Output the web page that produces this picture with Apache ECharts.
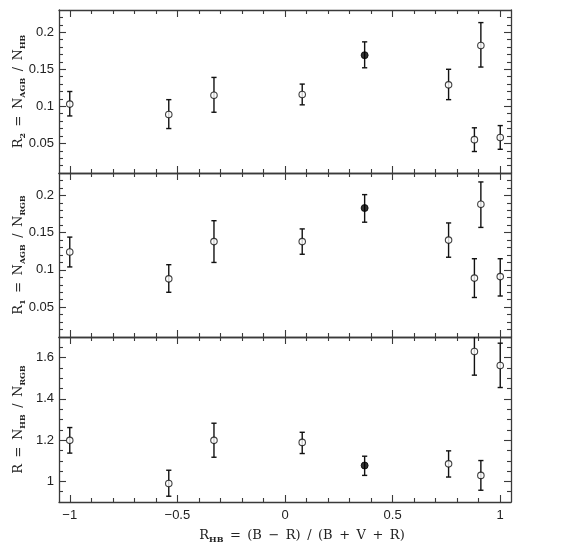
<!DOCTYPE html>
<html>
<head>
<meta charset="utf-8">
<script src="https://cdn.jsdelivr.net/npm/echarts@6/dist/echarts.min.js"></script>
<style>
html,body{margin:0;padding:0;background:#fff;}
#chart{width:570px;height:546px;}
</style>
</head>
<body>
<div id="chart"></div>
<script>
// ---- data ----
const xVals = [-1.0, -0.54, -0.33, 0.08, 0.37, 0.76, 0.88, 0.91, 1.0];
const filledIndex = 4; // the single filled point

const r2Vals = [0.103, 0.089, 0.115, 0.116, 0.169, 0.129, 0.055, 0.182, 0.058];
const r2Low  = [0.087, 0.070, 0.092, 0.102, 0.152, 0.109, 0.039, 0.153, 0.042];
const r2High = [0.120, 0.109, 0.139, 0.130, 0.187, 0.150, 0.071, 0.213, 0.074];

const r1Vals = [0.124, 0.088, 0.138, 0.138, 0.183, 0.140, 0.089, 0.188, 0.091];
const r1Low  = [0.104, 0.070, 0.110, 0.121, 0.164, 0.117, 0.063, 0.157, 0.065];
const r1High = [0.144, 0.107, 0.166, 0.155, 0.201, 0.163, 0.115, 0.218, 0.115];

const rVals  = [1.199, 0.990, 1.199, 1.189, 1.077, 1.085, 1.630, 1.029, 1.562];
const rLow   = [1.137, 0.928, 1.117, 1.135, 1.029, 1.021, 1.515, 0.957, 1.455];
const rHigh  = [1.261, 1.054, 1.282, 1.238, 1.122, 1.148, 1.745, 1.101, 1.670];

// ---- ticks ----
const xMajor = [-1, -0.5, 0, 0.5, 1];
const xMinor = [-0.9,-0.8,-0.7,-0.6,-0.4,-0.3,-0.2,-0.1,0.1,0.2,0.3,0.4,0.6,0.7,0.8,0.9];
const rRatioMajor = [0.05, 0.1, 0.15, 0.2];
const rRatioMinor = [0.02,0.03,0.04,0.06,0.07,0.08,0.09,0.11,0.12,0.13,0.14,0.16,0.17,0.18,0.19,0.21,0.22];
const rMajor = [1, 1.2, 1.4, 1.6];
const rMinor = [0.95,1.05,1.1,1.15,1.25,1.3,1.35,1.45,1.5,1.55,1.65];

const xRange = [-1.05, 1.05];
const rRatioRange = [0.01, 0.23];
const rRange = [0.9, 1.7];

// ---- styling ----
const frameColor = '#3a3a3a';
const textColor = '#222';
const tickFont = 'Liberation Sans';
const titleFont = 'DejaVu Serif';
const SP = '\u2002';

const panels = [
  {top: 10, height: 163, vals: r2Vals, low: r2Low, high: r2High, range: rRatioRange, major: rRatioMajor, minor: rRatioMinor,
   name: 'R{sub|2}' + SP + '=' + SP + 'N{sub|AGB}' + SP + '/' + SP + 'N{sub|HB}'},
  {top: 173, height: 164, vals: r1Vals, low: r1Low, high: r1High, range: rRatioRange, major: rRatioMajor, minor: rRatioMinor,
   name: 'R{sub|1}' + SP + '=' + SP + 'N{sub|AGB}' + SP + '/' + SP + 'N{sub|RGB}'},
  {top: 337, height: 165, vals: rVals, low: rLow, high: rHigh, range: rRange, major: rMajor, minor: rMinor,
   name: 'R' + SP + '=' + SP + 'N{sub|HB}' + SP + '/' + SP + 'N{sub|RGB}'}
];
const xTitle = 'R{sub|HB}' + SP + '=' + SP + '(B' + SP + '\u2212' + SP + 'R)' + SP + '/' + SP + '(B' + SP + '+' + SP + 'V' + SP + '+' + SP + 'R)';

const richName = {
  sub: {fontFamily: titleFont, fontSize: 8, fontWeight: 'bold', color: textColor, lineHeight: 10, verticalAlign: 'bottom'}
};

function fmtNum(v) { return String(v).replace('-', '\u2212'); }

const grids = [], xAxes = [], yAxes = [], series = [];

panels.forEach((p, i) => {
  grids.push({left: 59, right: 59, top: p.top, height: p.height, show: false, containLabel: false, outerBoundsMode: 'none'});
  const isBottom = i === panels.length - 1;
  const axLine = {show: true, onZero: false, lineStyle: {color: frameColor, width: 1.3}};
  const noLine = {show: false, onZero: false};
  const mkX = (pos, vals, len, labels, line) => {
    const a = {
      type: 'value', gridIndex: i, position: pos, min: xRange[0], max: xRange[1],
      axisLine: line ? axLine : noLine,
      axisTick: {show: true, inside: true, length: len, customValues: vals, lineStyle: {color: frameColor, width: 1.1}},
      axisLabel: labels ? {show: true, customValues: vals, fontFamily: tickFont, fontSize: 13, color: textColor, margin: 7, formatter: fmtNum} : {show: false},
      splitLine: {show: false}
    };
    if (labels) {
      a.name = xTitle;
      a.nameLocation = 'middle';
      a.nameGap = 26;
      a.nameMoveOverlap = false;
      a.nameTextStyle = {rich: richName, fontFamily: titleFont, fontSize: 13, color: textColor, lineHeight: 16, padding: [0, 0, 0, 34]};
    }
    return a;
  };
  xAxes.push(mkX('bottom', xMajor, 7, isBottom, true));
  xAxes.push(mkX('bottom', xMinor, 4, false, false));
  xAxes.push(mkX('top', xMajor, 7, false, true));
  xAxes.push(mkX('top', xMinor, 4, false, false));
  const mkY = (pos, vals, len, labels, line) => {
    const a = {
      type: 'value', gridIndex: i, position: pos, min: p.range[0], max: p.range[1],
      axisLine: line ? axLine : noLine,
      axisTick: {show: true, inside: true, length: len, customValues: vals, lineStyle: {color: frameColor, width: 1.1}},
      axisLabel: labels ? {show: true, customValues: vals, fontFamily: tickFont, fontSize: 13, color: textColor, margin: 5} : {show: false},
      splitLine: {show: false}
    };
    if (labels) {
      a.name = p.name;
      a.nameLocation = 'middle';
      a.nameRotate = 90;
      a.nameGap = 32;
      a.nameMoveOverlap = false;
      a.nameTextStyle = {rich: richName, fontFamily: titleFont, fontSize: 13, color: textColor, lineHeight: 16};
    }
    return a;
  };
  yAxes.push(mkY('left', p.major, 7, true, true));
  yAxes.push(mkY('left', p.minor, 4, false, false));
  yAxes.push(mkY('right', p.major, 7, false, true));
  yAxes.push(mkY('right', p.minor, 4, false, false));

  const xi = i * 4, yi = i * 4;
  series.push({
    type: 'custom', xAxisIndex: xi, yAxisIndex: yi, z: 2,
    data: xVals.map((x, k) => [x, p.low[k], p.high[k]]),
    renderItem: function (params, api) {
      const x = api.value(0);
      const lo = api.coord([x, api.value(1)]);
      const hi = api.coord([x, api.value(2)]);
      const cs = params.coordSys;
      const yTop = cs.y, yBot = cs.y + cs.height;
      const y1 = Math.min(lo[1], yBot), y2 = Math.max(hi[1], yTop);
      const cw = 2.6;
      const style = {stroke: '#111', lineWidth: 1.4};
      const ch = [{type: 'line', shape: {x1: lo[0], y1: y1, x2: hi[0], y2: y2}, style: style}];
      if (lo[1] <= yBot) ch.push({type: 'line', shape: {x1: lo[0] - cw, y1: lo[1], x2: lo[0] + cw, y2: lo[1]}, style: style});
      if (hi[1] >= yTop) ch.push({type: 'line', shape: {x1: hi[0] - cw, y1: hi[1], x2: hi[0] + cw, y2: hi[1]}, style: style});
      return {type: 'group', children: ch};
    },
    silent: true
  });
  series.push({
    type: 'scatter', xAxisIndex: xi, yAxisIndex: yi, z: 3,
    symbol: 'circle', symbolSize: 6.5,
    itemStyle: {color: '#fff', borderColor: '#111', borderWidth: 1.1},
    data: xVals.map((x, k) => [x, p.vals[k]]).filter((d, k) => k !== filledIndex),
    silent: true
  });
  series.push({
    type: 'scatter', xAxisIndex: xi, yAxisIndex: yi, z: 4,
    symbol: 'circle', symbolSize: 7,
    itemStyle: {color: '#000', borderColor: '#000', borderWidth: 1},
    data: [[xVals[filledIndex], p.vals[filledIndex]]],
    silent: true
  });
});

const chart = echarts.init(document.getElementById('chart'), null, {renderer: 'canvas'});
chart.setOption({
  animation: false,
  backgroundColor: '#fff',
  grid: grids,
  xAxis: xAxes,
  yAxis: yAxes,
  series: series
});
</script>
</body>
</html>
